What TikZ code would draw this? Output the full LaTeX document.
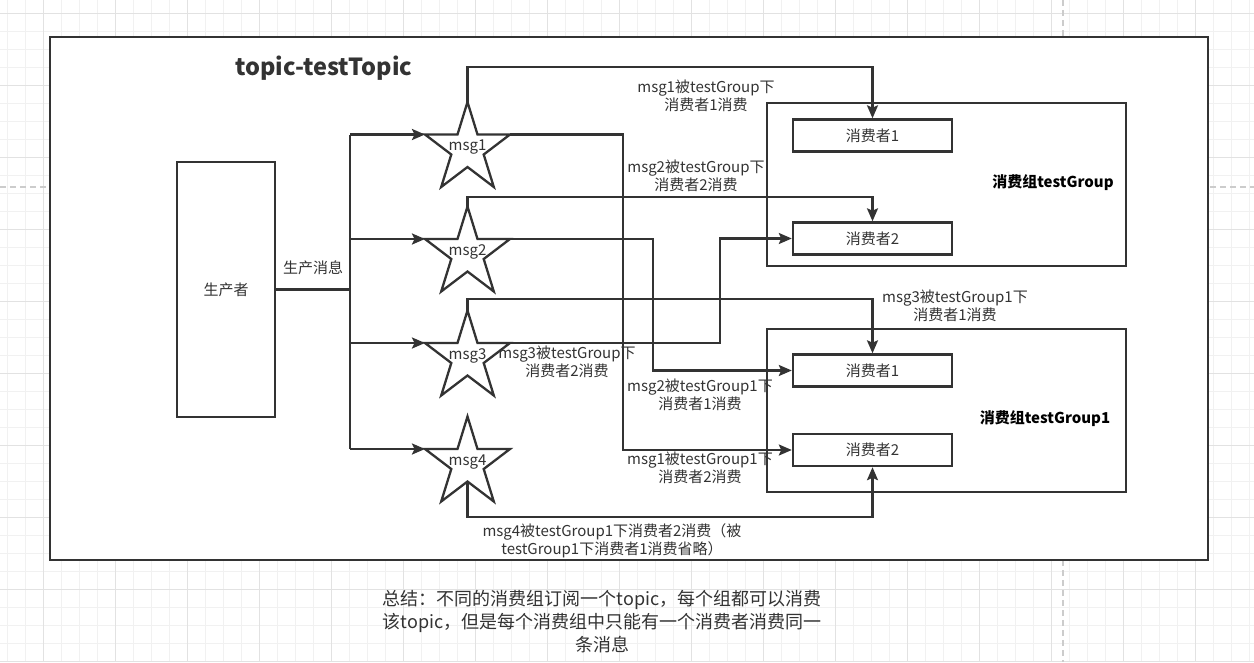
\documentclass[tikz,border=0pt]{standalone}
\usepackage{fontspec}
\setmainfont{Noto Sans CJK SC}
\usetikzlibrary{arrows.meta,calc}
\definecolor{ink}{HTML}{333333}
\definecolor{gridminor}{HTML}{F1F1F1}
\definecolor{gridmajor}{HTML}{E2E2E2}
\definecolor{pagedash}{HTML}{CCCCCC}
\newcommand\mystarat[2]{%
  \begin{scope}[shift={#2}]
    \draw[starline] (0,-42.5) -- (10,-10) -- (42.5,-10) -- (16.2,10) -- (26.3,42.5) -- (0,22.5)
      -- (-26.3,42.5) -- (-16.2,10) -- (-42.5,-10) -- (-10,-10) -- cycle;
  \end{scope}
  \node[starbox] (#1) at #2 {};}
\begin{document}
\begin{tikzpicture}[x=1pt,y=-1pt,
  box/.style={draw=ink,line width=2.4pt,fill=white,inner sep=0pt,
     font=\fontsize{15}{18}\selectfont,text=ink},
  starbox/.style={minimum width=85pt,minimum height=85pt,inner sep=0pt,outer sep=0pt},
  starline/.style={draw=ink,line width=2.3pt,fill=white},
  conn/.style={draw=ink,line width=2.3pt},
  arr/.style={conn,-{Stealth[length=13pt,width=11pt,inset=2.5pt]}},
  lbl/.style={font=\fontsize{15}{18}\selectfont,text=ink,align=center,inner sep=0pt},
  grp/.style={font=\bfseries\fontsize{15}{18}\selectfont,text=black,inner sep=0pt},
  gridl/.style={line width=0.8pt},
]
\useasboundingbox (0,0) rectangle (1254,662);
\fill[white] (0,0) rectangle (1254,662);
% canvas grid
\foreach \i in {0,...,69} {\draw[gridl,gridminor] ({7.3+18*\i},0) -- ({7.3+18*\i},662);}
\foreach \i in {0,...,36} {\draw[gridl,gridminor] (0,{13.3+18*\i}) -- (1254,{13.3+18*\i});}
\foreach \i in {0,...,17} {\draw[gridl,gridmajor] ({43.3+72*\i},0) -- ({43.3+72*\i},662);}
\foreach \i in {0,...,9} {\draw[gridl,gridmajor] (0,{13.3+72*\i}) -- (1254,{13.3+72*\i});}
\draw[pagedash,line width=1.3pt,dash pattern=on 6pt off 4pt] (0,187) -- (1254,187);
\draw[pagedash,line width=1.3pt,dash pattern=on 6pt off 4pt] (1063,0) -- (1063,662);

% outer topic box
\node[box,minimum width=1158pt,minimum height=523pt] (ob) at (629,298.5) {};
\node[font=\bfseries\fontsize{23.5}{28}\selectfont,text=ink,inner sep=0pt] (title) at (324,68) {topic-testTopic};

% producer
\node[box,minimum width=98pt,minimum height=255pt] (p) at (226,289.5) {生产者};
\node[lbl] (pl) at (313,268) {生产消息};

% consumer groups
\node[box,minimum width=359pt,minimum height=163pt] (ga) at (946.5,184.5) {};
\node[box,minimum width=359pt,minimum height=163pt] (gb) at (946.5,410.5) {};
\node[grp] (gal) at (1053,183) {消费组testGroup};
\node[grp] (gbl) at (1045,419) {消费组testGroup1};
\node[box,minimum width=159pt,minimum height=32pt] (a1) at (872.5,135.5) {消费者1};
\node[box,minimum width=159pt,minimum height=32pt] (a2) at (872.5,238.5) {消费者2};
\node[box,minimum width=159pt,minimum height=32pt] (b1) at (872.5,370.5) {消费者1};
\node[box,minimum width=159pt,minimum height=32pt] (b2) at (872.5,450) {消费者2};

% message stars
\mystarat{m1}{(467.5,144.5)}
\mystarat{m2}{(467.5,249)}
\mystarat{m3}{(467.5,353)}
\mystarat{m4}{(467.5,459)}
\node[lbl] (t1) at ([yshift=-3pt]m1.center) {msg1};
\node[lbl] (t2) at ([yshift=-3pt]m2.center) {msg2};
\node[lbl] (t3) at ([yshift=-3pt]m3.center) {msg3};
\node[lbl] (t4) at ([yshift=-3pt]m4.center) {msg4};
\coordinate (m1w) at ([yshift=10pt]m1.west);
\coordinate (m2w) at ([yshift=10pt]m2.west);
\coordinate (m3w) at ([yshift=10pt]m3.west);
\coordinate (m4w) at ([yshift=10pt]m4.west);
\coordinate (m1e) at ([yshift=10pt]m1.east);
\coordinate (m2e) at ([yshift=10pt]m2.east);
\coordinate (m3e) at ([yshift=10pt]m3.east);
\coordinate (m4b) at ([yshift=-22.5pt]m4.center);

% producer to messages
\coordinate (tr) at (350,289.5);
\draw[conn] (p.east) -- (tr);
\draw[conn] (tr |- m1w) -- (tr |- m4w);
\draw[arr] (tr |- m1w) -- (m1w);
\draw[arr] (tr |- m2w) -- (m2w);
\draw[arr] (tr |- m3w) -- (m3w);
\draw[arr] (tr |- m4w) -- (m4w);

% messages to consumers
\draw[arr] (m1.north) -- (467.5,67) -| (a1.north);
\draw[arr] (m1e) -| (623,450) -- (b2.west);
\draw[arr] (m2.north) -- (467.5,197) -| (a2.north);
\draw[arr] (m2e) -| (653,370.5) -- (b1.west);
\draw[arr] (m3.north) -- (467.5,299) -| (b1.north);
\draw[arr] (m3e) -| (720,238.5) -- (a2.west);
\draw[arr] (m4b) -- (467.5,517) -| (b2.south);

% connector labels
\node[lbl] (l1) at (706,96) {msg1被testGroup下\\消费者1消费};
\node[lbl] (l2) at (696,176) {msg2被testGroup下\\消费者2消费};
\node[lbl] (l3) at (567,362) {msg3被testGroup下\\消费者2消费};
\node[lbl] (l4) at (700,395) {msg2被testGroup1下\\消费者1消费};
\node[lbl] (l5) at (700,468) {msg1被testGroup1下\\消费者2消费};
\node[lbl] (l6) at (955,305.5) {msg3被testGroup1下\\消费者1消费};
\node[lbl] (l7) at (612,540.5) {msg4被testGroup1下消费者2消费（被\\testGroup1下消费者1消费省略）};

% summary
\node[font=\fontsize{18}{23}\selectfont,text=ink,align=center,inner sep=0pt] (sum) at (602,622)
  {总结：不同的消费组订阅一个topic，每个组都可以消费\\该topic，但是每个消费组中只能有一个消费者消费同一\\条消息};
\end{tikzpicture}
\end{document}
